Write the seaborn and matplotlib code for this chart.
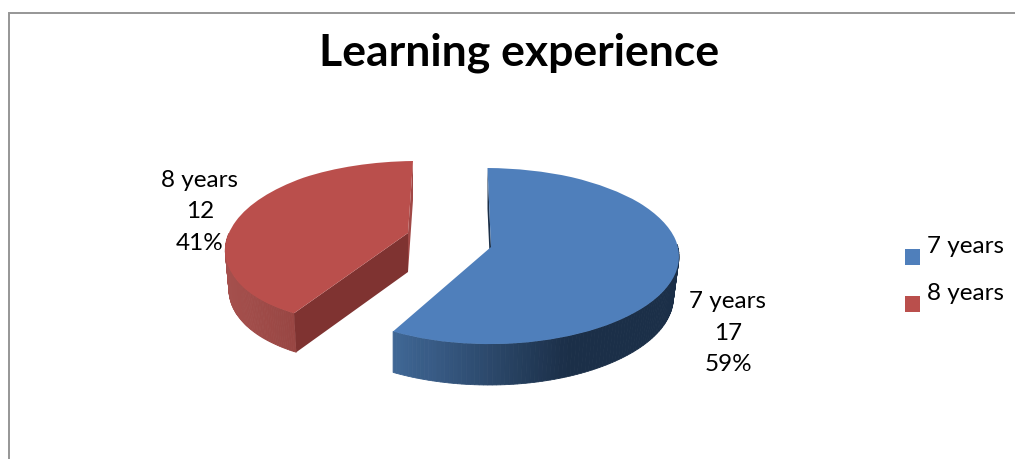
import numpy as np
import seaborn as sns
import matplotlib
matplotlib.use("Agg")
import matplotlib.pyplot as plt
from matplotlib.patches import Patch
from matplotlib.transforms import Transform

categories = ["7 years", "8 years"]
counts = [17, 12]
title = "Learning experience"

sns.set_theme(style="white")
plt.rcParams['font.family'] = ['Lato', 'DejaVu Sans']

top_colors = sns.color_palette(["#4f7fbb", "#ba4f4c"])
wall_left = ["#3f6694", "#a5504d"]
wall_right = ["#1b2f48", "#8f3f3c"]
cut_color = "#7f3331"
sliver_colors = ["#1b2f48", "#a04846"]


# squashes the unit pie circle into pixel space, with a bit of perspective
class Tilt(Transform):
    input_dims = 2
    output_dims = 2
    is_separable = False
    has_inverse = False

    def __init__(self, cx, cy, rx, ry, droop, skew, bend):
        super().__init__()
        self.p = (cx, cy, rx, ry, droop, skew, bend)

    def transform_non_affine(self, values):
        cx, cy, rx, ry, droop, skew, bend = self.p
        x, y = np.asarray(values).T
        px = cx + rx * x + skew * y + bend * y ** 2
        py = cy - (ry * y - droop * (x ** 2 + y ** 2))
        return np.column_stack([px, py])


tilts = [Tilt(491, 247, 188, 88, 9, -1, -2.5), Tilt(408, 233, 182, 82, 10, 15, -10)]
depths = [41, 39]
shrink_left = [1.0, 0.98]

fig = plt.figure(figsize=(10.15, 4.59), dpi=100)
ax = fig.add_axes([0, 0, 1, 1])

wedges, _ = ax.pie(counts, startangle=90, counterclock=False, colors=top_colors,
                   wedgeprops=dict(linewidth=0, zorder=5))

for i, w in enumerate(wedges):
    tilt = tilts[i]
    depth = depths[i]
    cx = tilt.p[0]
    w.set_transform(tilt + ax.transData)

    ang = np.radians(np.linspace(w.theta1, w.theta2, 160))
    rim = tilt.transform_non_affine(np.column_stack([np.cos(ang), np.sin(ang)]))
    low = rim + [0, depth]
    # bottom edge is a little narrower than the top one
    low[:, 0] = cx + (low[:, 0] - cx) * np.where(low[:, 0] > cx, 0.97, shrink_left[i])
    left, right = rim[:, 0].min(), rim[:, 0].min() + (rim[:, 0].max() - rim[:, 0].min()) * 0.6
    grad = sns.blend_palette([wall_left[i], wall_right[i]], 40)

    for j in range(len(ang) - 1):
        # back part of the rim is hidden anyway
        if np.sin(ang[j]) > 0.12:
            continue
        k = int(np.clip((rim[j, 0] - left) / (right - left), 0, 1) * 39)
        ax.fill([rim[j, 0], rim[j + 1, 0], low[j + 1, 0], low[j, 0]],
                [rim[j, 1], rim[j + 1, 1], low[j + 1, 1], low[j, 1]],
                color=grad[k], lw=0.6, zorder=2)

    # straight faces of the cut
    apex = tilt.transform_non_affine(np.array([[0.0, 0.0]]))[0]
    top_end = rim[np.argmax(np.sin(ang))]
    ax.fill([apex[0], top_end[0], top_end[0], apex[0]],
            [apex[1], top_end[1], top_end[1] + depth, apex[1] + depth],
            color=sliver_colors[i], lw=0, zorder=3)
    if i == 1:
        ax.fill([apex[0], rim[-1, 0], low[-1, 0], apex[0]],
                [apex[1], rim[-1, 1], low[-1, 1], apex[1] + depth],
                color=cut_color, lw=0, zorder=3)

ax.set_aspect("auto")
ax.set_xlim(0, 1015)
ax.set_ylim(459, 0)
ax.axis("off")

total = sum(counts)
label_pos = [(728, 333), (200, 212)]
for name, n, pos in zip(categories, counts, label_pos):
    ax.text(pos[0], pos[1], f"{name}\n{n}\n{n / total:.0%}", ha="center", va="center",
            fontsize=17.5, color="black", linespacing=1.6, zorder=6)

ax.text(519, 53, title, ha="center", va="center", fontsize=32, fontweight="bold", color="black")

# frame only shows on top and left
ax.plot([9.5, 9.5, 1015], [459, 13, 13], color="#969696", lw=1.4, solid_joinstyle="miter")

handles = [Patch(facecolor=c, linewidth=0) for c in top_colors]
leg = ax.legend(handles, categories, loc="center left", bbox_to_anchor=(905, 270),
                bbox_transform=ax.transData, frameon=False, fontsize=17.5, labelcolor="black",
                handlelength=0.62, handleheight=0.62, handletextpad=0.3,
                labelspacing=1.06, borderpad=0, borderaxespad=0)
for h in leg.legend_handles:
    h.set_y(h.get_y() - 9)

fig.savefig("out.png", dpi=100)
